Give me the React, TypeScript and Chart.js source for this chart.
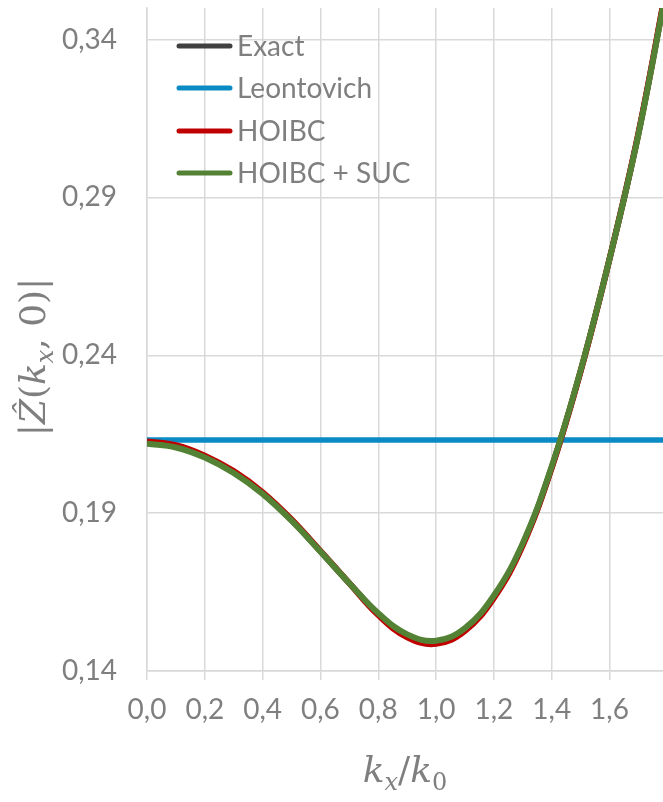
import React, { useEffect, useRef } from "react";
import { Chart, registerables } from "chart.js";

Chart.register(...registerables);

// ---- data ----
const X_VALUES = [0, 0.1, 0.2, 0.3, 0.4, 0.5, 0.6, 0.7, 0.8, 0.9, 1.0, 1.1, 1.2, 1.3, 1.4, 1.5, 1.6, 1.7, 1.8];
const EXACT = [0.2124, 0.2112, 0.2079, 0.2030, 0.1963, 0.1878, 0.1779, 0.1678, 0.1580, 0.1511, 0.1491, 0.1531, 0.1635, 0.1801, 0.2045, 0.2350, 0.2705, 0.3102, 0.3580];
const HOIBC = [0.2127, 0.2115, 0.2082, 0.2033, 0.1966, 0.1880, 0.1780, 0.1678, 0.1577, 0.1507, 0.1486, 0.1527, 0.1631, 0.1798, 0.2043, 0.2349, 0.2705, 0.3104, 0.3584];
const HOIBC_SUC = [0.2120, 0.2108, 0.2076, 0.2027, 0.1961, 0.1876, 0.1778, 0.1678, 0.1583, 0.1516, 0.1496, 0.1536, 0.1639, 0.1805, 0.2048, 0.2352, 0.2705, 0.3100, 0.3576];
const LEONTOVICH_X = [0, 1.8];
const LEONTOVICH = [0.2132, 0.2132];

const X_TICKS = [0, 0.2, 0.4, 0.6, 0.8, 1.0, 1.2, 1.4, 1.6];
const Y_TICKS = [0.14, 0.19, 0.24, 0.29, 0.34];

const SERIES_NAMES = ["Exact", "Leontovich", "HOIBC", "HOIBC + SUC"];
const SERIES_COLORS = ["#404040", "#0a8bc4", "#c00000", "#548235"];

const TEXT_COLOR = "#7f7f7f";
const UI_FONT = "Lato";
const MATH_FONT = '"DejaVu Serif"';

type Seg = { t: string; it?: boolean; sub?: boolean };

function drawMath(ctx: CanvasRenderingContext2D, segs: Seg[], cx: number, baseline: number, size: number) {
  const subSize = Math.round(size * 0.68);
  const fontOf = (s: Seg) => `${s.it ? "italic " : ""}${s.sub ? subSize : size}px ${MATH_FONT}`;
  let total = 0;
  const widths = segs.map((s) => {
    ctx.font = fontOf(s);
    const w = ctx.measureText(s.t).width;
    total += w;
    return w;
  });
  let x = cx - total / 2;
  ctx.textAlign = "left";
  ctx.textBaseline = "alphabetic";
  segs.forEach((s, i) => {
    ctx.font = fontOf(s);
    ctx.fillText(s.t, x, baseline + (s.sub ? size * 0.22 : 0));
    x += widths[i];
  });
}

const overlayPlugin = {
  id: "overlay",
  afterDraw(chart: any) {
    const ctx: CanvasRenderingContext2D = chart.ctx;
    ctx.save();
    // legend
    const legendY = [46, 88, 131, 173];
    SERIES_NAMES.forEach((name, i) => {
      ctx.strokeStyle = SERIES_COLORS[i];
      ctx.lineWidth = 5;
      ctx.lineCap = "round";
      ctx.beginPath();
      ctx.moveTo(179, legendY[i]);
      ctx.lineTo(230, legendY[i]);
      ctx.stroke();
      ctx.fillStyle = TEXT_COLOR;
      ctx.font = `28px ${UI_FONT}`;
      ctx.textAlign = "left";
      ctx.textBaseline = "alphabetic";
      ctx.fillText(name, 237, legendY[i] + 9.5);
    });
    // x title
    ctx.fillStyle = TEXT_COLOR;
    drawMath(
      ctx,
      [
        { t: "k", it: true },
        { t: "x", it: true, sub: true },
        { t: "/" },
        { t: "k", it: true },
        { t: "0", sub: true },
      ],
      (chart.chartArea.left + chart.chartArea.right) / 2,
      782,
      36
    );
    // y title
    ctx.translate(45, 357);
    ctx.rotate(-Math.PI / 2);
    drawMath(
      ctx,
      [
        { t: "|" },
        { t: "Z\u0302", it: true },
        { t: "(" },
        { t: "k", it: true },
        { t: "x", it: true, sub: true },
        { t: ", " },
        { t: "0" },
        { t: ")" },
        { t: "|" },
      ],
      0,
      0,
      36
    );
    ctx.restore();
  },
};

export default function App() {
  const canvasRef = useRef<HTMLCanvasElement | null>(null);

  useEffect(() => {
    document.body.style.margin = "0";
    document.body.style.overflow = "hidden";
    const canvas = canvasRef.current;
    if (!canvas) return;

    const pts = (xs: number[], ys: number[]) => xs.map((x, i) => ({ x, y: ys[i] }));
    const curve = (label: string, color: string, ys: number[], order: number) => ({
      label,
      data: pts(X_VALUES, ys),
      borderColor: color,
      backgroundColor: color,
      borderWidth: 6,
      pointRadius: 0,
      tension: 0.4,
      clip: 0,
      order,
    });

    const chart = new Chart(canvas, {
      type: "line",
      data: {
        datasets: [
          curve(SERIES_NAMES[0], SERIES_COLORS[0], EXACT, 4),
          {
            label: SERIES_NAMES[1],
            data: pts(LEONTOVICH_X, LEONTOVICH),
            borderColor: SERIES_COLORS[1],
            backgroundColor: SERIES_COLORS[1],
            borderWidth: 5.5,
            pointRadius: 0,
            clip: 0,
            order: 3,
          },
          curve(SERIES_NAMES[2], SERIES_COLORS[2], HOIBC, 2),
          curve(SERIES_NAMES[3], SERIES_COLORS[3], HOIBC_SUC, 1),
        ],
      },
      options: {
        animation: false,
        responsive: false,
        devicePixelRatio: 1,
        layout: { padding: { top: 8, right: 0, left: 0, bottom: 0 } },
        plugins: {
          legend: { display: false },
          tooltip: { enabled: false },
        },
        scales: {
          x: {
            type: "linear",
            min: 0,
            max: 1.785,
            afterBuildTicks: (scale: any) => {
              scale.ticks = X_TICKS.map((v) => ({ value: v }));
            },
            afterFit: (scale: any) => {
              scale.height = 131;
              scale.paddingLeft = 0;
              scale.paddingRight = 0;
            },
            ticks: {
              color: TEXT_COLOR,
              font: { family: UI_FONT, size: 28 },
              padding: 13,
              maxRotation: 0,
              autoSkip: false,
              callback: (v: any) => Number(v).toFixed(1).replace(".", ","),
            },
            grid: { color: "#d9d9d9", lineWidth: 1.5, tickLength: 9, drawTicks: true },
            border: { color: "#d9d9d9", width: 1.5 },
          },
          y: {
            type: "linear",
            min: 0.14,
            max: 0.35,
            afterBuildTicks: (scale: any) => {
              scale.ticks = Y_TICKS.map((v) => ({ value: v }));
            },
            afterFit: (scale: any) => {
              scale.width = 147;
              scale.paddingTop = 0;
              scale.paddingBottom = 0;
            },
            ticks: {
              color: TEXT_COLOR,
              font: { family: UI_FONT, size: 28 },
              padding: 30,
              autoSkip: false,
              callback: (v: any) => Number(v).toFixed(2).replace(".", ","),
            },
            grid: { color: "#d9d9d9", lineWidth: 1.5, drawTicks: false },
            border: { color: "#d9d9d9", width: 1.5 },
          },
        },
      },
      plugins: [overlayPlugin],
    } as any);

    return () => chart.destroy();
  }, []);

  return <canvas ref={canvasRef} width={663} height={802} style={{ display: "block", width: 663, height: 802 }} />;
}
